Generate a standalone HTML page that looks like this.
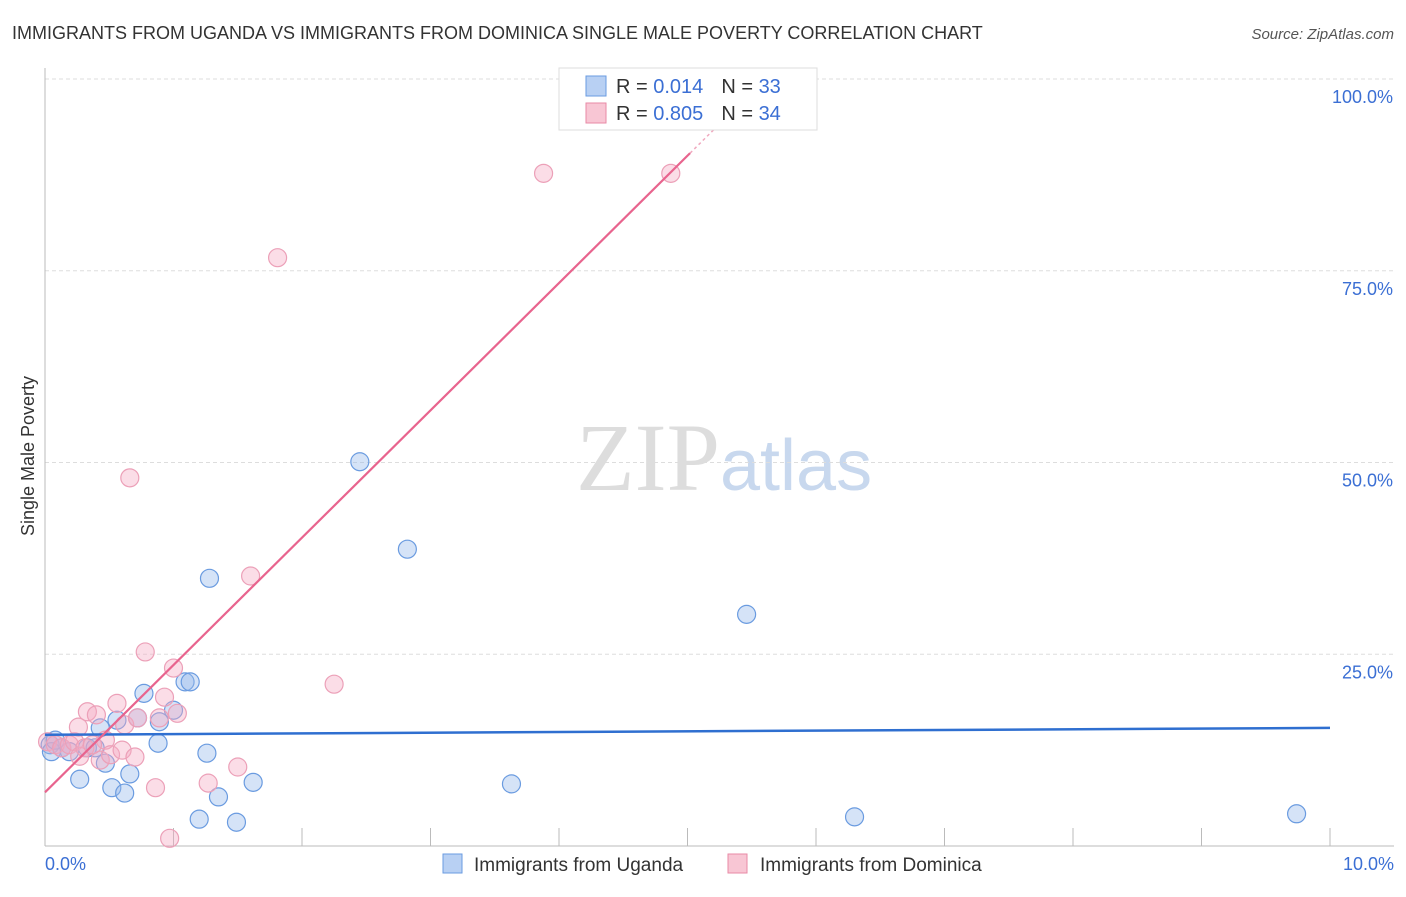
<!DOCTYPE html>
<html><head><meta charset="utf-8"><style>
body{margin:0;background:#fff;font-family:"Liberation Sans",sans-serif;}
svg text{font-family:"Liberation Sans",sans-serif;}
</style></head><body>
<svg id="chart" width="1406" height="892">
<text x="12" y="39" font-size="18" fill="#333">IMMIGRANTS FROM UGANDA VS IMMIGRANTS FROM DOMINICA SINGLE MALE POVERTY CORRELATION CHART</text>
<text x="1394" y="39" font-size="15" fill="#555" font-style="italic" text-anchor="end">Source: ZipAtlas.com</text>
<text x="720" y="490" font-size="96" fill="#ddd" text-anchor="end" font-family="Liberation Serif" style="font-family:'Liberation Serif',serif">ZIP</text>
<text x="720" y="490" font-size="72" fill="#c8d8ee">atlas</text>
<g id="grid"></g>
<g id="axes"></g>
<g id="points"></g>
<g id="lines"></g>
<text transform="translate(34,456) rotate(-90)" font-size="18" fill="#333" text-anchor="middle">Single Male Poverty</text>
<text x="45" y="870" font-size="18" fill="#3b6fd4">0.0%</text>
<text x="1394" y="870" font-size="18" fill="#3b6fd4" text-anchor="end">10.0%</text>
<g>
<rect x="559" y="68" width="258" height="62" fill="#fff" stroke="#ddd"/>
<rect x="586" y="76" width="20" height="20" fill="#b8d0f3" stroke="#6a9be0"/>
<rect x="586" y="103" width="20" height="20" fill="#f8c6d4" stroke="#e88aa6"/>
<text x="616" y="93" font-size="20" fill="#333">R = <tspan fill="#3b6fd4">0.014</tspan><tspan dx="18">N = </tspan><tspan fill="#3b6fd4">33</tspan></text>
<text x="616" y="120" font-size="20" fill="#333">R = <tspan fill="#3b6fd4">0.805</tspan><tspan dx="18">N = </tspan><tspan fill="#3b6fd4">34</tspan></text>
</g>
<g>
<rect x="443" y="854" width="19" height="19" fill="#b8d0f3" stroke="#6a9be0"/>
<text x="474" y="871" font-size="19" fill="#333">Immigrants from Uganda</text>
<rect x="728" y="854" width="19" height="19" fill="#f8c6d4" stroke="#e88aa6"/>
<text x="760" y="871" font-size="19" fill="#333">Immigrants from Dominica</text>
</g>
</svg>
<script>
const yTicks=[25,50,75,100];
const yTickLabels=["25.0%","50.0%","75.0%","100.0%"];
const xTicks=[0,1,2,3,4,5,6,7,8,9,10];
const ugandaX=[0.04,0.05,0.08,0.19,0.27,0.33,0.39,0.43,0.47,0.52,0.56,0.62,0.66,0.72,0.77,0.88,0.89,1.0,1.09,1.13,1.26,1.28,1.20,1.35,1.49,1.62,2.45,2.82,3.63,5.46,6.30,9.74,0.13];
const ugandaY=[13.2,12.3,13.8,12.3,8.7,12.8,12.8,15.4,10.8,7.6,16.4,6.9,9.4,16.7,19.9,13.4,16.2,17.7,21.4,21.4,12.1,34.9,3.5,6.4,3.1,8.3,50.1,38.7,8.1,30.2,3.8,4.2,12.8];
const dominicaX=[0.02,0.08,0.13,0.19,0.23,0.27,0.31,0.33,0.26,0.40,0.43,0.47,0.51,0.56,0.60,0.62,0.70,0.72,0.78,0.86,0.89,0.93,1.0,1.03,0.97,1.27,1.50,1.60,1.81,2.25,3.88,4.87,0.66,0.37];
const dominicaY=[13.6,13.2,12.8,13.2,13.6,11.7,12.8,17.5,15.5,17.1,11.2,13.8,11.9,18.6,12.5,15.8,11.6,16.7,25.3,7.6,16.7,19.4,23.2,17.3,1.0,8.2,10.3,35.2,76.7,21.1,87.7,87.7,48.0,13.2];
const ugandaTrend=[14.5,15.4];
const dominicaTrendIntercept=7.0, dominicaTrendSlope=16.6;
const X=v=>45+v*128.5, Y=v=>846-v*7.67;
const NS="http://www.w3.org/2000/svg";
function mk(tag,attrs,parent){const e=document.createElementNS(NS,tag);for(const k in attrs)e.setAttribute(k,attrs[k]);parent.appendChild(e);return e;}
const grid=document.getElementById('grid'),axes=document.getElementById('axes'),pts=document.getElementById('points'),lines=document.getElementById('lines');
yTicks.forEach((t,i)=>{
 const l=mk('line',{x1:45,x2:1394,y1:Y(t),y2:Y(t),stroke:'#ddd','stroke-dasharray':'4,3'},grid);
 
 
 const tx=mk('text',{x:1393,y:Y(t)+24,'font-size':18,fill:'#3b6fd4','text-anchor':'end'},axes);
 tx.textContent=yTickLabels[i];
 
 
});
const ya=mk('line',{x1:45,x2:45,y1:68,y2:846,stroke:'#bbb'},axes);


const xa=mk('line',{x1:45,x2:1394,y1:846,y2:846,stroke:'#bbb'},axes);


xTicks.forEach(t=>{
 const l=mk('line',{x1:X(t),x2:X(t),y1:828,y2:846,stroke:'#bbb'},axes);
 
 
});
ugandaX.forEach((x,i)=>{
 const c=mk('circle',{cx:X(x),cy:Y(ugandaY[i]),r:9,fill:'rgba(150,185,235,0.4)',stroke:'#6a9be0','stroke-width':1.2},pts);
 
 
});
dominicaX.forEach((x,i)=>{
 const c=mk('circle',{cx:X(x),cy:Y(dominicaY[i]),r:9,fill:'rgba(245,170,195,0.4)',stroke:'#eca0b8','stroke-width':1.2},pts);
 
 
});
const bl=mk('line',{x1:X(0),x2:X(10),y1:Y(ugandaTrend[0]),y2:Y(ugandaTrend[1]),stroke:'#2f6fd0','stroke-width':2.5},lines);


const pe=5.02, pd=5.3;
const pl=mk('line',{x1:X(0),x2:X(pe),y1:Y(dominicaTrendIntercept),y2:Y(dominicaTrendIntercept+dominicaTrendSlope*pe),stroke:'#e8648e','stroke-width':2.2},lines);


const pdl=mk('line',{x1:X(pe),x2:X(pd),y1:Y(dominicaTrendIntercept+dominicaTrendSlope*pe),y2:Y(dominicaTrendIntercept+dominicaTrendSlope*pd),stroke:'#f0a8be','stroke-width':1.5,'stroke-dasharray':'3,3'},lines);


</script>
</body></html>
